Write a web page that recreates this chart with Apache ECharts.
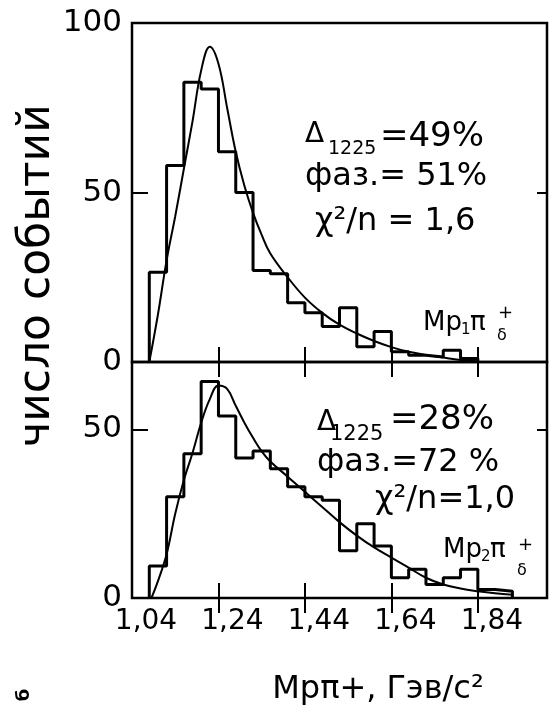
<!DOCTYPE html>
<html>
<head>
<meta charset="utf-8">
<script src="https://cdn.jsdelivr.net/npm/echarts@6/dist/echarts.min.js"></script>
<style>
  html, body { margin: 0; padding: 0; background: #fff; }
  #chart { width: 549px; height: 717px; }
</style>
</head>
<body>
<div id="chart"></div>
<script>
// histogram bins: 1.08 .. step 0.04 GeV
const binStart = 1.08;
const binWidth = 0.04;
// top panel: M(p1 pi+)
const histTop = [26.5, 58, 82.5, 80.5, 62, 50, 27, 26, 17.5, 14.5, 10.5, 16, 4.5, 9, 3, 2, 1.5, 3.5, 1];
const curveTop = [
  [1.08, 0], [1.10, 14], [1.12, 30], [1.14, 43], [1.16, 57], [1.18, 71], [1.20, 86],
  [1.22, 93], [1.24, 88], [1.26, 75], [1.28, 62], [1.30, 52], [1.32, 44], [1.34, 37.5],
  [1.36, 32], [1.40, 25], [1.44, 19], [1.48, 14.5], [1.52, 11], [1.56, 8.4], [1.60, 6.2],
  [1.64, 4.4], [1.68, 3], [1.72, 2.1], [1.76, 1.3], [1.80, 0.6], [1.84, 0.2]
];
// bottom panel: M(p2 pi+)
const histBottom = [9.5, 30, 42.8, 64.2, 54, 41.5, 43.6, 38.3, 33, 30, 29, 14, 22, 15.4, 6, 8.5, 4, 6, 8.5, 2.5, 2];
const curveBottom = [
  [1.085, 0], [1.10, 5], [1.12, 13], [1.14, 25], [1.16, 35], [1.18, 43], [1.20, 52],
  [1.22, 59], [1.24, 63], [1.26, 62], [1.28, 57], [1.30, 52], [1.32, 47.5], [1.34, 43.5],
  [1.36, 40.5], [1.40, 36], [1.44, 31.5], [1.48, 27], [1.52, 22.5], [1.56, 18.5], [1.60, 15],
  [1.64, 12], [1.68, 9], [1.72, 6], [1.76, 4], [1.80, 2.8], [1.84, 2], [1.88, 1.4], [1.92, 1]
];
const xTickLabels = [1.04, 1.24, 1.44, 1.64, 1.84];
const xTicks = [1.24, 1.44, 1.64, 1.84];
const yLabelsTop = [0, 50, 100];
const yLabelsBottom = [0, 50];

const FONT = "DejaVu Sans";

// outline of the histogram from bin heights
function steps(h) {
  const pts = [[binStart, 0]];
  h.forEach((v, i) => {
    const a = +(binStart + i * binWidth).toFixed(2);
    const b = +(a + binWidth).toFixed(2);
    pts.push([a, v], [b, v]);
  });
  pts.push([+(binStart + h.length * binWidth).toFixed(2), 0]);
  return pts;
}

let myChart = echarts.init(document.getElementById("chart"));

function xAx(grid, pos, withLabels) {
  return {
    type: "value",
    gridIndex: grid,
    position: pos,
    min: 1.04,
    max: 2.0,
    axisLine: { show: false },
    splitLine: { show: false },
    axisTick: {
      show: true,
      inside: true,
      length: 15,
      customValues: xTicks,
      lineStyle: { color: "#000", width: 2 },
    },
    axisLabel: withLabels
      ? {
          show: true,
          customValues: xTickLabels,
          fontFamily: FONT,
          fontSize: 28,
          color: "#000",
          margin: 10,
          padding: [0, 0, 0, 28],
          formatter: (v) => v.toFixed(2).replace(".", ","),
        }
      : { show: false },
  };
}

function yAx(grid, pos, max, labels) {
  return {
    type: "value",
    gridIndex: grid,
    position: pos,
    min: 0,
    max: max,
    interval: 50,
    axisLine: { show: false },
    splitLine: { show: false },
    axisTick: {
      show: true,
      inside: true,
      length: pos === "left" ? 16 : 10,
      lineStyle: { color: "#000", width: 2 },
    },
    axisLabel: labels
      ? { show: true, customValues: labels, fontFamily: FONT, fontSize: 31, color: "#000", margin: 10 }
      : { show: false },
  };
}

function txt(x, y, text, size, opts) {
  return {
    type: "text",
    x: x,
    y: y,
    rotation: (opts && opts.rotation) || 0,
    style: {
      text: text,
      font: ((opts && opts.weight) || "normal") + " " + size + "px '" + FONT + "'",
      fill: "#000",
      textAlign: (opts && opts.align) || "left",
      textVerticalAlign: "middle",
    },
  };
}

let option = {
  animation: false,
  backgroundColor: "#fff",
  grid: [
    { left: 132, top: 23, width: 415, height: 339, show: true, borderColor: "#000", borderWidth: 2.5 },
    { left: 132, top: 362, width: 415, height: 236, show: true, borderColor: "#000", borderWidth: 2.5 },
  ],
  xAxis: [xAx(0, "bottom", false), xAx(0, "top", false), xAx(1, "bottom", true), xAx(1, "top", false)],
  yAxis: [
    yAx(0, "left", 100, yLabelsTop),
    yAx(0, "right", 100, null),
    yAx(1, "left", 70, yLabelsBottom),
    yAx(1, "right", 70, null),
  ],
  series: [
    {
      type: "line",
      xAxisIndex: 0,
      yAxisIndex: 0,
      symbol: "none",
      lineStyle: { color: "#000", width: 3 },
      data: steps(histTop),
    },
    {
      type: "line",
      xAxisIndex: 0,
      yAxisIndex: 0,
      symbol: "none",
      smooth: 0.4,
      lineStyle: { color: "#000", width: 2 },
      data: curveTop,
    },
    {
      type: "line",
      xAxisIndex: 2,
      yAxisIndex: 2,
      symbol: "none",
      lineStyle: { color: "#000", width: 3 },
      data: steps(histBottom),
    },
    {
      type: "line",
      xAxisIndex: 2,
      yAxisIndex: 2,
      symbol: "none",
      smooth: 0.4,
      lineStyle: { color: "#000", width: 2 },
      data: curveBottom,
    },
  ],
  graphic: [
    txt(38, 276, "число событий", 44, { rotation: Math.PI / 2, align: "center" }),
    txt(378, 690, "Mpπ+, Гэв/c²", 32, { align: "center" }),
    txt(24, 695, "б", 18, { rotation: Math.PI / 2, align: "center", weight: "bold" }),
    // top panel notes
    txt(305, 135, "Δ", 28),
    txt(328, 149, "1225", 19),
    txt(380, 137, "=49%", 34),
    txt(305, 177, "фаз.= 51%", 32),
    txt(315, 222, "χ²/n = 1,6", 32),
    txt(423, 323, "Mp", 26),
    txt(461, 330, "1", 15),
    txt(470, 323, "π", 26),
    txt(498, 313, "+", 18),
    txt(497, 336, "δ", 16),
    // bottom panel notes
    txt(317, 423, "Δ", 28),
    txt(330, 435, "1225", 21),
    txt(390, 420, "=28%", 34),
    txt(317, 463, "фаз.=72 %", 32),
    txt(375, 500, "χ²/n=1,0", 32),
    txt(443, 550, "Mp", 26),
    txt(481, 557, "2", 15),
    txt(490, 550, "π", 26),
    txt(518, 545, "+", 18),
    txt(517, 571, "δ", 16),
  ],
};
myChart.setOption(option);
</script>
</body>
</html>
